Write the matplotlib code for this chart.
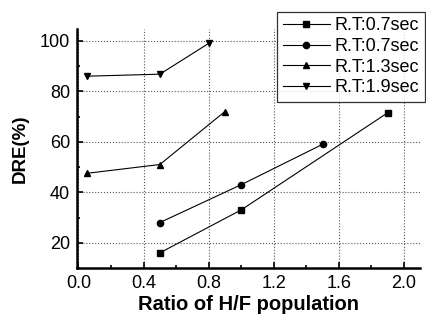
import matplotlib
matplotlib.use("Agg")
import matplotlib.pyplot as plt
from matplotlib.ticker import MultipleLocator

plt.rcParams['font.family'] = ['Liberation Sans', 'DejaVu Sans']

# data
x_sq = [0.5, 1.0, 1.9]
y_sq = [16, 33, 71.5]
x_ci = [0.5, 1.0, 1.5]
y_ci = [28, 43, 59]
x_up = [0.05, 0.5, 0.9]
y_up = [47.5, 51, 72]
x_dn = [0.05, 0.5, 0.8]
y_dn = [86, 86.8, 99]
labels = ['R.T:0.7sec', 'R.T:0.7sec', 'R.T:1.3sec', 'R.T:1.9sec']

fig = plt.figure(figsize=(4.27, 3.26), dpi=100)
ax = fig.add_axes([0.180, 0.178, 0.804, 0.733])

ln = dict(color='black', lw=0.8, ms=4.5)
ax.plot(x_sq, y_sq, marker='s', label=labels[0], **ln)
ax.plot(x_ci, y_ci, marker='o', label=labels[1], **ln)
ax.plot(x_up, y_up, marker='^', label=labels[2], **ln)
ax.plot(x_dn, y_dn, marker='v', label=labels[3], **ln)

ax.set_xlim(-0.01, 2.1)
ax.set_ylim(10, 104.7)
ax.xaxis.set_minor_locator(MultipleLocator(0.2))
ax.yaxis.set_minor_locator(MultipleLocator(10))
ax.set_xticks([0.0, 0.4, 0.8, 1.2, 1.6, 2.0])
ax.set_xticklabels(['0.0', '0.4', '0.8', '1.2', '1.6', '2.0'])
ax.set_yticks([20, 40, 60, 80, 100])

ax.grid(True, which='major', linestyle=':', color='#555555', lw=0.8)
ax.tick_params(which='both', direction='in', labelsize=13, width=1.2)
ax.tick_params(which='major', length=4, pad=5)
ax.tick_params(which='minor', length=2.5)

for s in ['top', 'right']:
    ax.spines[s].set_visible(False)
for s in ['left', 'bottom']:
    ax.spines[s].set_linewidth(1.8)

ax.set_xlabel('Ratio of H/F population', fontsize=14.5, fontweight='bold', labelpad=2)
ax.set_ylabel('DRE(%)', fontsize=13.5, fontweight='bold', labelpad=8)

leg = ax.legend(loc='upper right', bbox_to_anchor=(425 / 427, 1 - 12 / 326),
                bbox_transform=fig.transFigure, fontsize=13, frameon=True,
                fancybox=False, edgecolor='black', borderaxespad=0,
                handlelength=2.6, handletextpad=0.3, labelspacing=0.2,
                borderpad=0.3)
leg.get_frame().set_linewidth(0.9)

fig.savefig('out.png', dpi=100)
